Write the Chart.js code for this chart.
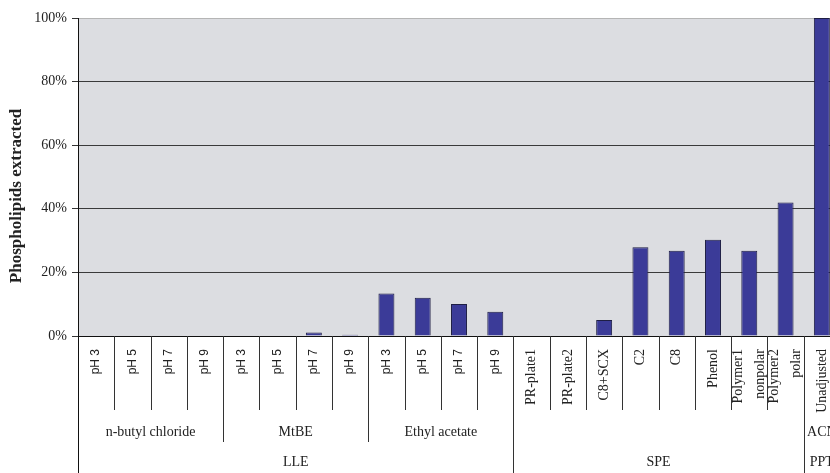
<!DOCTYPE html>
<html>
<head>
    <title>Phospholipids extracted</title>
    <script src="https://cdn.jsdelivr.net/npm/chart.js@4.4.0/dist/chart.umd.min.js"></script>
    <style>
        html, body { margin: 0; padding: 0; background: white; overflow: hidden; }
        canvas { display: block; }
    </style>
</head>
<body>
    <canvas id="myChart" width="840" height="473"></canvas>
    <script>
        // Categories (one per bar) and the grouping rows under them
        const itemLabels = [
            'pH 3', 'pH 5', 'pH 7', 'pH 9',
            'pH 3', 'pH 5', 'pH 7', 'pH 9',
            'pH 3', 'pH 5', 'pH 7', 'pH 9',
            'PR-plate1', 'PR-plate2', 'C8+SCX', 'C2', 'C8', 'Phenol',
            ['Polymer1', 'nonpolar'], ['Polymer2', 'polar'],
            'Unadjusted'
        ];
        const extracted = [
            0, 0, 0, 0,
            0, 0, 1.1, 0.4,
            13.4, 12.0, 10.1, 7.6,
            0, 0, 5.0, 27.9, 26.8, 30.3, 26.8, 42.0,
            100
        ];
        const solventLabels = ['n-butyl chloride', 'MtBE', 'Ethyl acetate', '', 'ACN'];
        const solventSpans = [4, 4, 4, 8, 1];
        const methodLabels = ['LLE', 'SPE', 'PPT'];
        const methodSpans = [12, 8, 1];
        const yTicks = [0, 20, 40, 60, 80, 100];

        const serif = '"Liberation Serif", "Times New Roman", serif';
        const sans = '"Liberation Sans", Arial, sans-serif';

        // boundaries (index of first bar) for each grouping row
        function starts(spans) {
            const out = [];
            let n = 0;
            spans.forEach(s => { out.push(n); n += s; });
            return out;
        }
        const solventStarts = starts(solventSpans);
        const methodStarts = starts(methodSpans);

        // gray plot background
        const plotBackground = {
            id: 'plotBackground',
            beforeDraw(chart) {
                const a = chart.chartArea;
                const c = chart.ctx;
                c.save();
                c.fillStyle = '#dcdde1';
                c.fillRect(a.left, a.top, a.right - a.left, a.bottom - a.top);
                c.restore();
            }
        };

        // x axis table: separators, rotated item labels, group rows, y title
        const axisTable = {
            id: 'axisTable',
            afterDraw(chart) {
                const c = chart.ctx;
                const a = chart.chartArea;
                const x = chart.scales.x;
                const w = (a.right - a.left) / itemLabels.length;
                const H = chart.height;
                c.save();
                c.strokeStyle = '#111';
                c.lineWidth = 1;

                // x axis line and y axis line
                c.beginPath();
                c.moveTo(a.left, Math.round(a.bottom) + 0.5);
                c.lineTo(a.right, Math.round(a.bottom) + 0.5);
                c.moveTo(Math.round(a.left) + 0.5, a.top);
                c.lineTo(Math.round(a.left) + 0.5, H);
                c.stroke();

                // separators between categories
                c.strokeStyle = '#333';
                for (let i = 1; i < itemLabels.length; i++) {
                    const px = Math.round(x.getPixelForValue(i) - w / 2) + 0.5;
                    let depth = 410;
                    if (methodStarts.includes(i)) depth = H;
                    else if (solventStarts.includes(i)) depth = 442;
                    c.beginPath();
                    c.moveTo(px, a.bottom);
                    c.lineTo(px, depth);
                    c.stroke();
                }

                // item labels, rotated
                c.fillStyle = '#222';
                c.textAlign = 'right';
                c.textBaseline = 'middle';
                itemLabels.forEach((lab, i) => {
                    const cx = x.getPixelForValue(i);
                    const lines = Array.isArray(lab) ? lab : [lab];
                    c.font = lines[0].startsWith('pH') ? '12px ' + sans : '14px ' + serif;
                    lines.forEach((ln, k) => {
                        const off = lines.length > 1 ? (k - 0.5) * 22 : 0;
                        c.save();
                        c.translate(cx + off, 349);
                        c.rotate(-Math.PI / 2);
                        c.fillText(ln, 0, 0);
                        c.restore();
                    });
                });

                // solvent and method rows
                c.textAlign = 'center';
                c.font = '14px ' + serif;
                solventLabels.forEach((lab, g) => {
                    const i0 = solventStarts[g];
                    const i1 = i0 + solventSpans[g] - 1;
                    const cx = (x.getPixelForValue(i0) + x.getPixelForValue(i1)) / 2;
                    c.fillText(lab, cx, 432);
                });
                methodLabels.forEach((lab, g) => {
                    const i0 = methodStarts[g];
                    const i1 = i0 + methodSpans[g] - 1;
                    const cx = (x.getPixelForValue(i0) + x.getPixelForValue(i1)) / 2;
                    c.fillText(lab, cx, 462);
                });

                // y axis title
                c.font = 'bold 17px ' + serif;
                c.save();
                c.translate(17, 196);
                c.rotate(-Math.PI / 2);
                c.fillText('Phospholipids extracted', 0, 0);
                c.restore();
                c.restore();
            }
        };

        var ctx = document.getElementById('myChart').getContext('2d');

        var myChart = new Chart(ctx, {
            type: 'bar',
            data: {
                labels: itemLabels,
                datasets: [{
                    data: extracted,
                    backgroundColor: '#3b3b98',
                    borderColor: '#1e1e44',
                    borderWidth: c => (c.raw > 0 ? 1 : 0),
                    borderSkipped: 'start',
                    barPercentage: 0.44,
                    categoryPercentage: 1
                }]
            },
            options: {
                responsive: false,
                animation: false,
                layout: { padding: { top: 18, bottom: 137, left: 0, right: 0 } },
                plugins: {
                    legend: { display: false },
                    tooltip: { enabled: false }
                },
                scales: {
                    x: { display: false },
                    y: {
                        min: 0,
                        max: 100,
                        afterFit: s => { s.width = 78; },
                        afterBuildTicks: s => { s.ticks = yTicks.map(v => ({ value: v })); },
                        border: { display: false },
                        grid: {
                            color: c => (c.tick.value === 100 ? '#b5b5b5' : '#3a3a3a'),
                            tickColor: '#333',
                            tickLength: 6,
                            lineWidth: 1
                        },
                        ticks: {
                            padding: 5,
                            color: '#222',
                            font: { family: serif, size: 14 },
                            callback: v => v + '%'
                        }
                    }
                }
            },
            plugins: [plotBackground, axisTable]
        });
    </script>
</body>
</html>
